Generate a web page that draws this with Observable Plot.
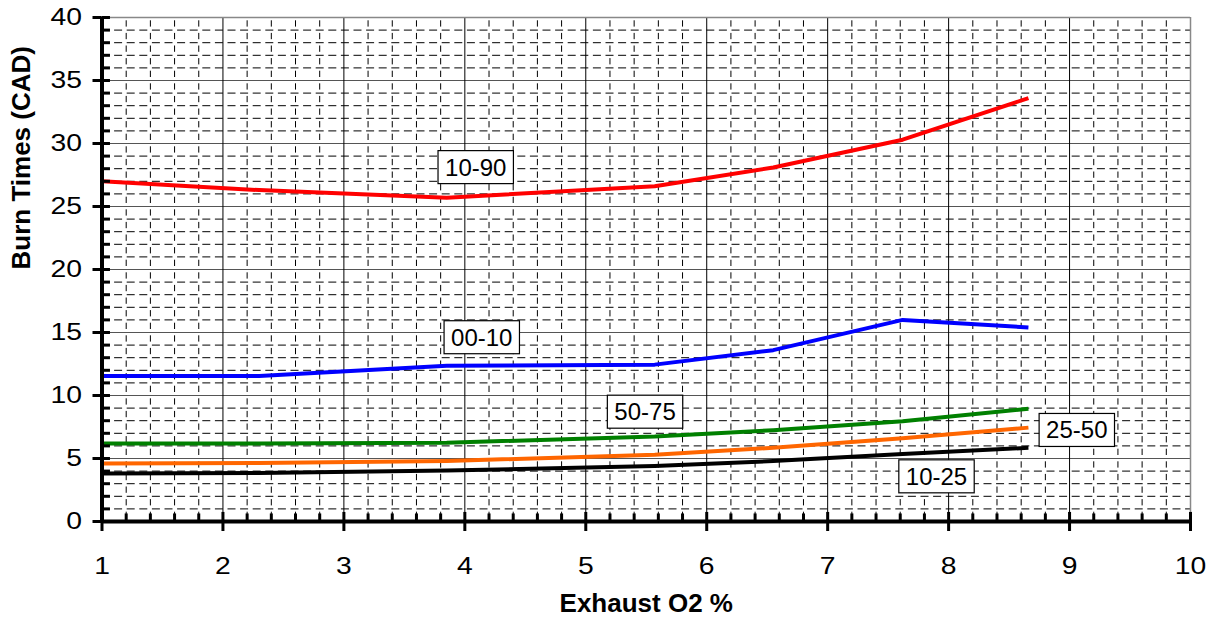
<!DOCTYPE html>
<html>
<head>
<meta charset="utf-8">
<script src="https://cdn.jsdelivr.net/npm/d3@7"></script>
<script src="https://cdn.jsdelivr.net/npm/@observablehq/plot@0.6"></script>
<style>
  html, body { margin: 0; padding: 0; background: #fff; }
  #chart svg { display: block; }
</style>
</head>
<body>
<div id="chart"></div>
<script>
// Exhaust O2 % sample positions
const o2 = [1.0, 2.3, 3.85, 5.57, 6.55, 7.62, 8.66];
// Burn times (CAD) per series
const burn1090 = [27.0, 26.3, 25.7, 26.6, 28.1, 30.3, 33.6];
const burn0010 = [11.55, 11.55, 12.36, 12.45, 13.6, 16.0, 15.4];
const burn5075 = [6.2, 6.2, 6.25, 6.75, 7.25, 7.95, 8.95];
const burn2550 = [4.6, 4.65, 4.8, 5.3, 5.85, 6.6, 7.45];
const burn1025 = [3.8, 3.85, 4.05, 4.4, 4.8, 5.35, 5.85];

const seriesNames = ["10-90", "00-10", "50-75", "25-50", "10-25"];
const seriesColors = ["#ff0000", "#0000ff", "#008000", "#ff6600", "#000000"];
const seriesValues = [burn1090, burn0010, burn5075, burn2550, burn1025];

// Label positions (data units)
const labelX = [4.09, 4.14, 5.49, 9.06, 7.90];
const labelY = [28.06, 14.56, 8.65, 7.2, 3.52];

const xTicks = d3.range(1, 11);
const yTicks = d3.range(0, 41, 5);
const xMinor = d3.range(1.2, 10, 0.2).map(v => +v.toFixed(1)).filter(v => Math.abs(v - Math.round(v)) > 1e-6);
const yMinor = d3.range(1, 40).filter(v => v % 5 !== 0);

const rows = [];
seriesNames.forEach((name, k) => {
  o2.forEach((x, i) => rows.push({series: name, x, y: seriesValues[k][i]}));
});
const labels = seriesNames.map((name, k) => ({name, x: labelX[k], y: labelY[k]}));

const font = "Arial, 'Liberation Sans', sans-serif";

const chart = Plot.plot({
  width: 1217,
  height: 624,
  marginLeft: 101.5,
  marginRight: 27,
  marginTop: 17,
  marginBottom: 103,
  style: {fontFamily: font, background: "#fff", color: "#000"},
  x: {domain: [1, 10]},
  y: {domain: [0, 40]},
  color: {domain: seriesNames, range: seriesColors},
  marks: [
    // minor grid
    Plot.ruleY(yMinor, {x1: 1, x2: 10, stroke: "#000", strokeWidth: 1, strokeDasharray: "8,4.6"}),
    Plot.ruleX(xMinor, {y1: 0, y2: 40, stroke: "#000", strokeWidth: 1, strokeDasharray: "6.3,6.3", strokeDashoffset: -3}),
    // major grid
    Plot.ruleY(yTicks.filter(v => v > 0 && v < 40), {x1: 1, x2: 10, stroke: "#555", strokeWidth: 1.2}),
    Plot.ruleX(xTicks.filter(v => v > 1 && v < 10), {y1: 0, y2: 40, stroke: "#000", strokeWidth: 1}),
    // plot border
    Plot.ruleY([40], {x1: 1, x2: 10, stroke: "#888", strokeWidth: 1.5}),
    Plot.ruleX([10], {y1: 0, y2: 40, stroke: "#888", strokeWidth: 1.5}),
    // series
    Plot.line(rows, {x: "x", y: "y", z: "series", stroke: "series", strokeWidth: 4, strokeLinejoin: "round", strokeLinecap: "butt"}),
    // axes
    Plot.axisX({ticks: xTicks, tickSize: 10, tickPadding: 26, tickFormat: d => String(d), fontSize: 23, strokeWidth: 3, label: null}),
    Plot.axisY({ticks: yTicks, tickSize: 9, tickPadding: 11, tickFormat: d => String(d), fontSize: 23, strokeWidth: 3, label: null}),
    // inner tick halves
    Plot.ruleX(xTicks, {y1: 0, y2: 0.72, stroke: "#000", strokeWidth: 3}),
    Plot.ruleX(xMinor, {y1: 0, y2: 0.6, stroke: "#000", strokeWidth: 3}),
    Plot.ruleY(yTicks, {x1: 1, x2: 1.07, stroke: "#000", strokeWidth: 3}),
    Plot.ruleY(yMinor, {x1: 1, x2: 1.07, stroke: "#000", strokeWidth: 3}),
    // axis lines
    Plot.ruleY([0], {x1: 1, x2: 10, stroke: "#000", strokeWidth: 4}),
    Plot.ruleX([1], {y1: 0, y2: 40, stroke: "#000", strokeWidth: 4}),
    // series labels
    Plot.text(labels, {x: "x", y: "y", text: "name", fontSize: 24, fill: "#000"}),
    // axis titles
    Plot.text(["Exhaust O2 %"], {frameAnchor: "bottom", dy: 90, fontSize: 26, fontWeight: "bold", fill: "#000"}),
    Plot.text(["Burn Times (CAD)"], {frameAnchor: "left", dx: -80, rotate: -90, fontSize: 26, fontWeight: "bold", fill: "#000"})
  ]
});

document.getElementById("chart").appendChild(chart);

const svgNode = chart.tagName.toLowerCase() === "svg" ? chart : chart.querySelector("svg");
const allTexts = Array.from(svgNode.querySelectorAll("text"));

// white boxes with a thin border behind each series label
allTexts
  .filter(t => seriesNames.includes(t.textContent.trim()))
  .forEach(t => {
    const bb = t.getBBox();
    const padX = 7, padY = 3;
    const rect = document.createElementNS("http://www.w3.org/2000/svg", "rect");
    rect.setAttribute("x", bb.x - padX);
    rect.setAttribute("y", bb.y - padY);
    rect.setAttribute("width", bb.width + 2 * padX);
    rect.setAttribute("height", bb.height + 2 * padY);
    rect.setAttribute("fill", "#fff");
    rect.setAttribute("stroke", "#000");
    rect.setAttribute("stroke-width", 1.2);
    const tr = t.getAttribute("transform");
    if (tr) rect.setAttribute("transform", tr);
    t.parentNode.insertBefore(rect, t);
  });

// the reference's tick numbers are drawn wider than plain Arial: stretch them about their anchor
allTexts
  .filter(t => /^\d+$/.test(t.textContent.trim()))
  .forEach(t => {
    t.style.fontSize = "23px";
    const bb = t.getBBox();
    const anchor = getComputedStyle(t).textAnchor;
    const ax = anchor === "end" ? bb.x + bb.width : anchor === "start" ? bb.x : bb.x + bb.width / 2;
    const tr = t.getAttribute("transform") || "";
    t.setAttribute("transform", `${tr} translate(${ax},0) scale(1.23,1) translate(${-ax},0)`);
  });
</script>
</body>
</html>
